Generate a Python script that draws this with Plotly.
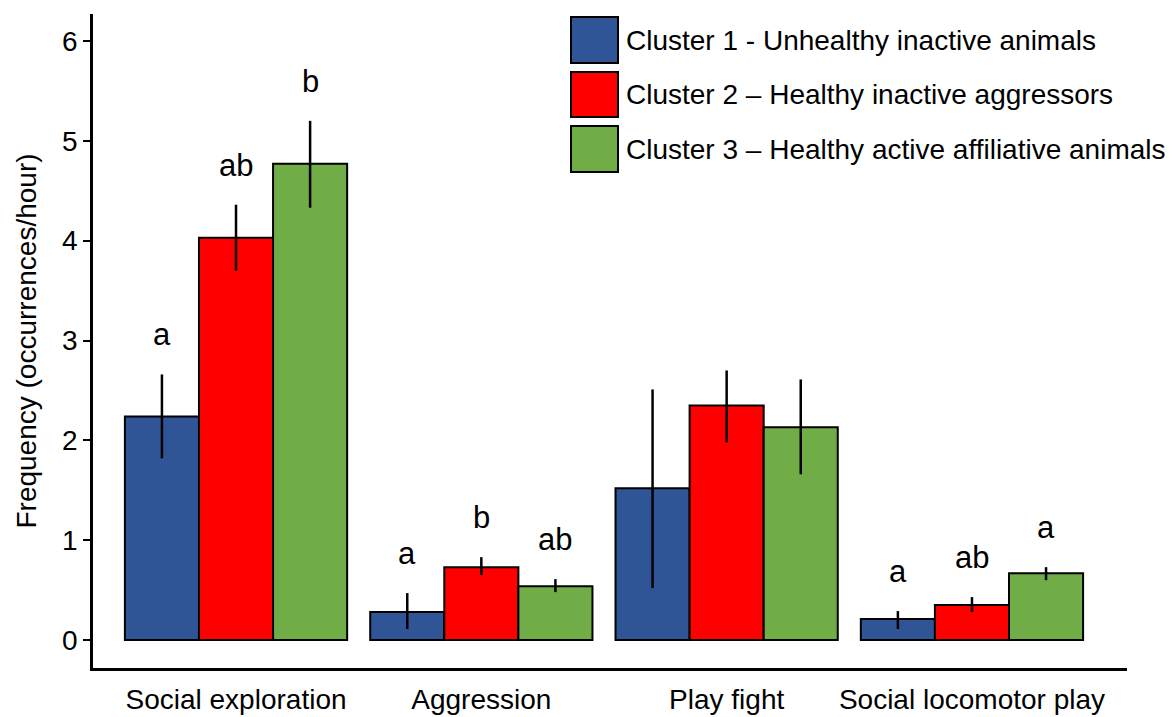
import plotly.graph_objects as go

categories = ["Social exploration", "Aggression", "Play fight", "Social locomotor play"]
series_names = [
    "Cluster 1 - Unhealthy inactive animals",
    "Cluster 2 – Healthy inactive aggressors",
    "Cluster 3 – Healthy active affiliative animals",
]
colors = ["#2F5597", "#FF0000", "#70AD47"]

# mean values
cluster1 = [2.24, 0.28, 1.52, 0.21]
cluster2 = [4.03, 0.73, 2.35, 0.35]
cluster3 = [4.77, 0.54, 2.13, 0.67]
# error bar ends (upper / lower)
cluster1_hi = [2.66, 0.47, 2.51, 0.29]
cluster1_lo = [1.82, 0.11, 0.52, 0.11]
cluster2_hi = [4.36, 0.83, 2.70, 0.43]
cluster2_lo = [3.70, 0.65, 1.98, 0.28]
cluster3_hi = [5.20, 0.61, 2.61, 0.73]
cluster3_lo = [4.33, 0.48, 1.66, 0.60]
# significance letters
letters1 = ["a", "a", "", "a"]
letters2 = ["ab", "b", "", "ab"]
letters3 = ["b", "ab", "", "a"]

means = [cluster1, cluster2, cluster3]
highs = [cluster1_hi, cluster2_hi, cluster3_hi]
lows = [cluster1_lo, cluster2_lo, cluster3_lo]
letters = [letters1, letters2, letters3]

FONT = "Liberation Sans, Arial, sans-serif"
fig = go.Figure()
for k in range(3):
    fig.add_trace(go.Bar(
        x=categories, y=means[k], name=series_names[k],
        marker=dict(color=colors[k], line=dict(color="black", width=2)),
        error_y=dict(type="data", symmetric=False,
                     array=[h - m for h, m in zip(highs[k], means[k])],
                     arrayminus=[m - l for m, l in zip(means[k], lows[k])],
                     color="black", thickness=2.5, width=0),
        showlegend=False,
    ))

bargap = 0.094
bw = (1 - bargap) / 3
annotations = []
for k in range(3):
    off = (k - 1) * bw
    for i, lab in enumerate(letters[k]):
        if not lab:
            continue
        annotations.append(dict(
            x=i + off, y=highs[k][i], xref="x", yref="y", text=lab,
            showarrow=False, yanchor="bottom", yshift=20,
            font=dict(size=31, color="black", family=FONT)))

# manual legend with large swatches (pixel positions relative to plot area)
px0, px1 = 571, 618
tops = [17, 72, 126]
bots = [63, 117, 172]
shapes = []
for k in range(3):
    shapes.append(dict(type="rect", xref="paper", yref="paper",
                       x0=(px0 - 93) / 1034, x1=(px1 - 93) / 1034,
                       y0=(668 - bots[k]) / 654, y1=(668 - tops[k]) / 654,
                       fillcolor=colors[k], line=dict(color="black", width=2)))
    annotations.append(dict(x=(624 - 93) / 1034, y=(668 - (tops[k] + bots[k]) / 2) / 654,
                            xref="paper", yref="paper", text=series_names[k],
                            showarrow=False, xanchor="left", yanchor="middle",
                            font=dict(size=28, color="black", family=FONT)))

# page body has an 8px margin: shrink figure and margins to compensate
fig.update_layout(
    width=1165, height=709,
    margin=dict(l=85, r=46, t=6, b=49, autoexpand=False),
    paper_bgcolor="white", plot_bgcolor="white",
    barmode="group", bargap=bargap, bargroupgap=0,
    font=dict(family=FONT, size=28, color="black"),
    annotations=annotations, shapes=shapes,
    xaxis=dict(range=[-0.583, 3.632], showline=True, linecolor="black", linewidth=2.5,
               ticks="", showgrid=False, zeroline=False, automargin=False,
               ticklabelstandoff=5,
               tickfont=dict(size=28, color="black")),
    yaxis=dict(range=[-0.28, 6.27], showline=True, linecolor="black", linewidth=2.5,
               ticks="outside", ticklen=7, tickwidth=2, tickcolor="black",
               tickmode="array", tickvals=[0, 1, 2, 3, 4, 5, 6],
               showgrid=False, zeroline=False, automargin=False,
               tickfont=dict(size=28, color="black"),
               title=dict(text="Frequency (occurrences/hour)", standoff=18,
                          font=dict(size=28, color="black"))),
)
fig.write_html("out.html")
